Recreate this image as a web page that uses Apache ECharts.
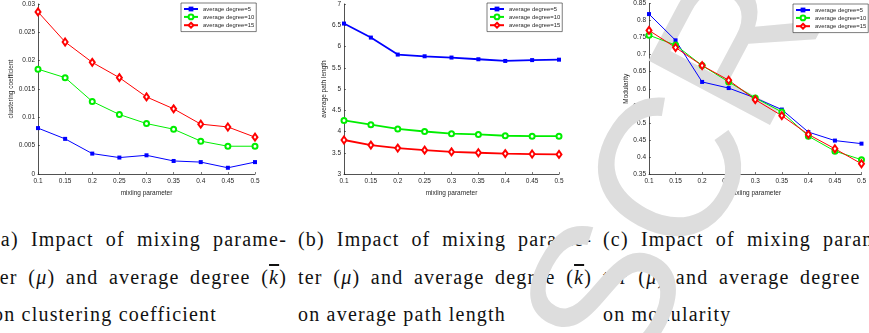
<!DOCTYPE html>
<html>
<head>
<meta charset="utf-8">
<script src="https://cdn.jsdelivr.net/npm/echarts@6/dist/echarts.min.js"></script>
<style>
body{margin:0;background:#fff;}
#wrap{position:relative;width:869px;height:333px;overflow:hidden;}
.cap{position:absolute;top:221px;width:294px;font-family:"Liberation Serif","Times New Roman",serif;font-size:20px;letter-spacing:1.2px;line-height:37.5px;color:#111;}
.cap .j{text-align:justify;text-align-last:justify;white-space:nowrap;}
.kbar{text-decoration:overline;font-style:italic;}
#chart{position:absolute;left:0;top:0;width:869px;height:333px;z-index:2;}
</style>
</head>
<body>
<div id="wrap">
  <div class="cap" style="left:-7px">
    <div class="j">(a) Impact of mixing parame-</div>
    <div class="j">ter (<i>μ</i>) and average degree (<span class="kbar">k</span>)</div>
    <div>on clustering coefficient</div>
  </div>
  <div class="cap" style="left:298px">
    <div class="j">(b) Impact of mixing parame-</div>
    <div class="j">ter (<i>μ</i>) and average degree (<span class="kbar">k</span>)</div>
    <div>on average path length</div>
  </div>
  <div class="cap" style="left:603px">
    <div class="j">(c) Impact of mixing parame-</div>
    <div class="j">ter (<i>μ</i>) and average degree (<span class="kbar">k</span>)</div>
    <div>on modularity</div>
  </div>
  <div id="chart"></div>
</div>
<script>
// x categories (mixing parameter)
const mixing = ['0.1', '0.15', '0.2', '0.25', '0.3', '0.35', '0.4', '0.45', '0.5'];
const seriesNames = ['average degree=5', 'average degree=10', 'average degree=15'];

// (a) clustering coefficient
const ccDeg5 = [0.0081, 0.0062, 0.0036, 0.0029, 0.0033, 0.0023, 0.0021, 0.0011, 0.0021];
const ccDeg10 = [0.0185, 0.0170, 0.0128, 0.0105, 0.0089, 0.0079, 0.0058, 0.0049, 0.0049];
const ccDeg15 = [0.0286, 0.0233, 0.0197, 0.0170, 0.0136, 0.0115, 0.0088, 0.0083, 0.0065];

// (b) average path length
const aplDeg5 = [6.54, 6.21, 5.81, 5.77, 5.74, 5.70, 5.66, 5.68, 5.69];
const aplDeg10 = [4.26, 4.16, 4.06, 4.00, 3.95, 3.93, 3.90, 3.89, 3.89];
const aplDeg15 = [3.80, 3.68, 3.61, 3.56, 3.52, 3.50, 3.48, 3.47, 3.46];

// (c) modularity
const modDeg5 = [0.819, 0.742, 0.620, 0.602, 0.573, 0.539, 0.473, 0.448, 0.439];
const modDeg10 = [0.757, 0.728, 0.668, 0.620, 0.573, 0.532, 0.461, 0.417, 0.392];
const modDeg15 = [0.771, 0.721, 0.668, 0.625, 0.568, 0.521, 0.466, 0.424, 0.380];

// y tick settings per panel
const yMin = [0, 3, 0.35];
const yMax = [0.03, 7, 0.85];
const yStep = [0.005, 0.5, 0.05];
const yNames = ['clustering coefficient', 'average path length', 'Modularity'];

let chart = echarts.init(document.getElementById('chart'));

const txt = '#262626';
const fontFam = '"Liberation Sans", Arial, sans-serif';

let grids = [
  {left: 38, top: 4, width: 217, height: 170},
  {left: 344, top: 4, width: 215, height: 170},
  {left: 649, top: 3.5, width: 217, height: 170.5}
];
let yGaps = [22, 13, 19.5];
let legendPos = [[181, 3], [487, 3], [793, 4]];
let lineW = [1, 1.8, 1];
let allData = [
  [ccDeg5, ccDeg10, ccDeg15],
  [aplDeg5, aplDeg10, aplDeg15],
  [modDeg5, modDeg10, modDeg15]
];
let colors = ['#0000ff', '#00ee00', '#ff0000'];
let symbols = ['rect', 'emptyCircle', 'emptyDiamond'];
let symSizes = [[4, 4], [5, 5], [5, 7]];

let xAxes = [], yAxes = [], series = [], legends = [];
for (let p = 0; p < 3; p++) {
  xAxes.push({
    gridIndex: p,
    type: 'category',
    data: mixing,
    boundaryGap: false,
    name: 'mixiing parameter',
    nameLocation: 'middle',
    nameGap: 15,
    nameTextStyle: {fontSize: 6.5, color: txt, fontFamily: fontFam},
    axisLine: {lineStyle: {color: txt, width: 0.8}},
    axisTick: {inside: true, length: 2, lineStyle: {color: txt, width: 0.6}},
    axisLabel: {interval: 0, fontSize: 6.5, color: txt, margin: 4, fontFamily: fontFam}
  });
  yAxes.push({
    gridIndex: p,
    type: 'value',
    min: yMin[p],
    max: yMax[p],
    interval: yStep[p],
    name: yNames[p],
    nameLocation: 'middle',
    nameGap: yGaps[p],
    nameTextStyle: {fontSize: 6.5, color: txt, fontFamily: fontFam},
    splitLine: {show: false},
    axisLine: {show: true, lineStyle: {color: txt, width: 0.8}},
    axisTick: {show: true, inside: true, length: 2, lineStyle: {color: txt, width: 0.6}},
    axisLabel: {fontSize: 6.5, color: txt, margin: 3, fontFamily: fontFam}
  });
  for (let s = 0; s < 3; s++) {
    series.push({
      name: seriesNames[s],
      type: 'line',
      xAxisIndex: p,
      yAxisIndex: p,
      data: allData[p][s],
      symbol: symbols[s],
      symbolSize: symSizes[s],
      color: colors[s],
      lineStyle: {width: lineW[p], color: colors[s]},
      itemStyle: {color: colors[s], borderWidth: 1},
      animation: false
    });
  }
  legends.push({
    left: legendPos[p][0],
    top: legendPos[p][1],
    orient: 'vertical',
    data: seriesNames,
    padding: [3, 2, 3, 2],
    itemGap: 1.5,
    itemWidth: 14,
    itemHeight: 6,
    borderColor: txt,
    borderWidth: 0.6,
    backgroundColor: '#fff',
    textStyle: {fontSize: 5.9, color: txt, fontFamily: fontFam}
  });
}

let option = {
  animation: false,
  grid: grids,
  xAxis: xAxes,
  yAxis: yAxes,
  legend: legends,
  series: series,
  // light grey diagonal watermark (kept under the lines)
  graphic: [{
    type: 'text',
    x: 617,
    y: 295,
    rotation: 62 * Math.PI / 180,
    z: 1,
    silent: true,
    style: {
      text: 'MANUSCRIPT',
      font: '200px "Liberation Sans", Arial, sans-serif',
      fill: '#dddddd',
      align: 'center',
      verticalAlign: 'middle'
    }
  }]
};
chart.setOption(option);
</script>
</body>
</html>
